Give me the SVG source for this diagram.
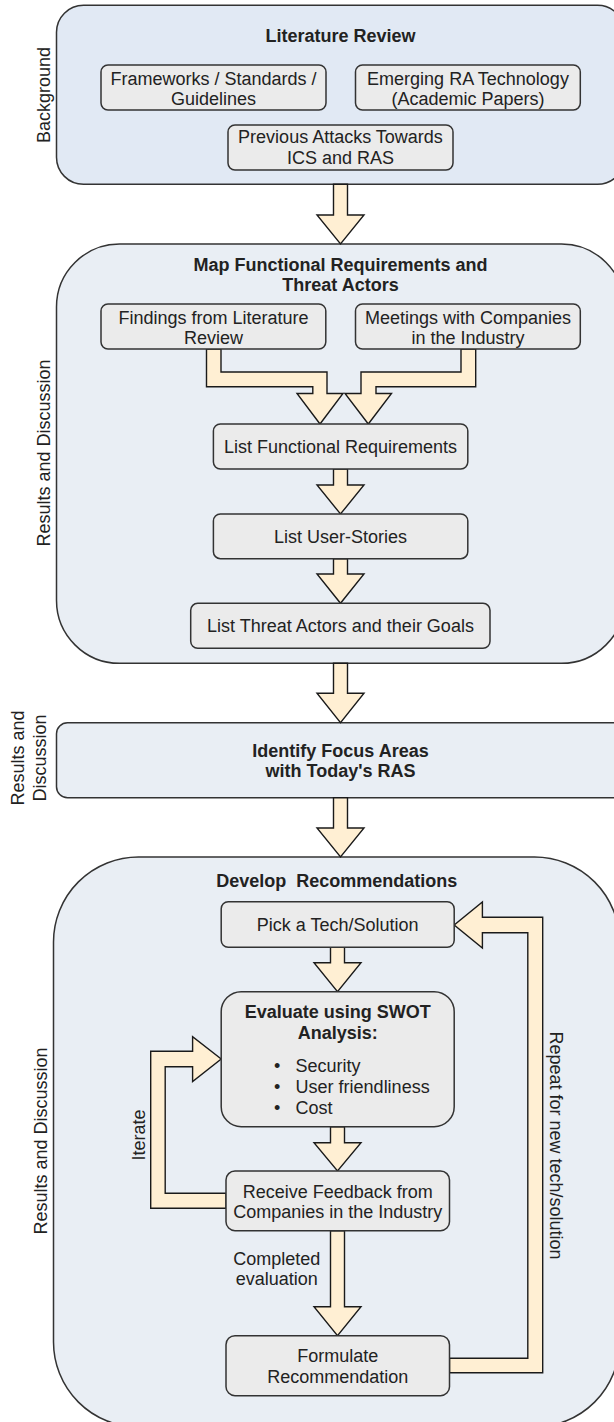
<svg xmlns="http://www.w3.org/2000/svg" width="614" height="1422" viewBox="0 0 614 1422">
  <style>
    text { font-family: "Liberation Sans", Arial, sans-serif; font-size: 18px; fill: #222; }
    .b { font-weight: bold; }
    .c { text-anchor: middle; }
    .stage { stroke: #333; stroke-width: 1.5; }
    .blue1 { fill: #E1E9F4; }
    .blue2 { fill: #E9EEF4; }
    .box { fill: #EBEBEB; stroke: #333; stroke-width: 1.5; }
    .arrow { fill: #FFEFD3; stroke: #1a1a1a; stroke-width: 1.4; stroke-linejoin: miter; }
  </style>

  <!-- stage containers -->
  <g id="literature-review">
    <rect class="stage blue1" x="56.5" y="5.3" width="568" height="179" rx="27" ry="27"/>
    <text class="b c" x="340.5" y="42">Literature Review</text>
  </g>
  <g id="map-requirements">
    <rect class="stage blue2" x="56.5" y="244" width="568" height="419.3" rx="63" ry="63"/>
    <text class="b c" x="340.5" y="271">Map Functional Requirements and</text>
    <text class="b c" x="340.5" y="291">Threat Actors</text>
  </g>
  <g id="focus-areas">
    <rect class="stage blue2" x="56.5" y="722.7" width="568" height="75" rx="11" ry="11"/>
    <text class="b c" x="340.5" y="756.5">Identify Focus Areas</text>
    <text class="b c" x="340.5" y="777">with Today's RAS</text>
  </g>
  <g id="develop-recommendations">
    <rect class="stage blue2" x="53.5" y="857" width="566" height="570" rx="85" ry="85"/>
    <text class="b c" x="336.7" y="886.5" xml:space="preserve">Develop  Recommendations</text>
  </g>

  <!-- side labels -->
  <g id="side-labels">
    <text class="c" transform="translate(49.5,95) rotate(-90)">Background</text>
    <text class="c" transform="translate(49.5,453) rotate(-90)">Results and Discussion</text>
    <text class="c" transform="translate(24,758) rotate(-90)">Results and</text>
    <text class="c" transform="translate(45.5,758) rotate(-90)">Discussion</text>
    <text class="c" transform="translate(47,1141) rotate(-90)">Results and Discussion</text>
  </g>

  <!-- connectors -->
  <g id="connectors">
    <polygon class="arrow" points="333.5,184.3 347.5,184.3 347.5,215 364,215 340.5,244 317,215 333.5,215"/>
    <polygon class="arrow" points="206.5,349 206.5,386.7 312.8,386.7 312.8,393.5 297,393.5 320,424 343,393.5 327,393.5 327,372 221,372 221,349"/>
    <polygon class="arrow" points="475.7,349 475.7,386.7 376,386.7 376,393.5 391.5,393.5 368.3,424 345,393.5 361,393.5 361,372 461,372 461,349"/>
    <polygon class="arrow" points="333.5,469 347.5,469 347.5,485 364,485 340.5,514 317,485 333.5,485"/>
    <polygon class="arrow" points="333.5,558.7 347.5,558.7 347.5,574 364,574 340.5,603.3 317,574 333.5,574"/>
    <polygon class="arrow" points="333.5,663.3 347.5,663.3 347.5,693.3 364,693.3 340.5,722.7 317,693.3 333.5,693.3"/>
    <polygon class="arrow" points="333.5,797.7 347.5,797.7 347.5,828 364,828 340.5,857 317,828 333.5,828"/>
    <polygon class="arrow" points="330.5,947.3 344.5,947.3 344.5,962.7 361,962.7 337.5,991.7 314,962.7 330.5,962.7"/>
    <polygon class="arrow" points="330.5,1126.7 344.5,1126.7 344.5,1142.7 361,1142.7 337.5,1171 314,1142.7 330.5,1142.7"/>
    <polygon class="arrow" points="330.5,1230.7 344.5,1230.7 344.5,1306.7 361,1306.7 337.5,1335.7 314,1306.7 330.5,1306.7"/>
    <!-- iterate loop back into the evaluation -->
    <polygon class="arrow" points="226,1208.3 150.7,1208.3 150.7,1051.3 192.6,1051.3 192.6,1036.7 221.2,1059 192.6,1081.5 192.6,1066.7 165.2,1066.7 165.2,1193.3 226,1193.3"/>
    <!-- repeat loop back to the start -->
    <polygon class="arrow" points="449.5,1372.7 542.7,1372.7 542.7,917.3 482.4,917.3 482.4,902 454.2,925 482.4,948 482.4,932.7 527.8,932.7 527.8,1358.3 449.5,1358.3"/>
    <text class="c" transform="translate(145,1135) rotate(-90)">Iterate</text>
    <text class="c" transform="translate(550,1145.5) rotate(90)">Repeat for new tech/solution</text>
    <text class="c" x="276.8" y="1264.5">Completed</text>
    <text class="c" x="276.8" y="1285">evaluation</text>
  </g>

  <!-- literature sources -->
  <g id="frameworks">
    <rect class="box" x="101" y="65" width="225" height="45" rx="7" ry="7"/>
    <text class="c" x="213.5" y="84.5">Frameworks / Standards /</text>
    <text class="c" x="213.5" y="104.5">Guidelines</text>
  </g>
  <g id="emerging-tech">
    <rect class="box" x="355.5" y="65" width="224.8" height="45" rx="7" ry="7"/>
    <text class="c" x="468" y="84.5">Emerging RA Technology</text>
    <text class="c" x="468" y="104.5">(Academic Papers)</text>
  </g>
  <g id="previous-attacks">
    <rect class="box" x="228" y="125" width="225" height="45" rx="7" ry="7"/>
    <text class="c" x="340.5" y="143">Previous Attacks Towards</text>
    <text class="c" x="340.5" y="163.5">ICS and RAS</text>
  </g>

  <!-- requirement mapping steps -->
  <g id="findings">
    <rect class="box" x="101" y="304" width="224.8" height="45" rx="7" ry="7"/>
    <text class="c" x="213.5" y="323.5">Findings from Literature</text>
    <text class="c" x="213.5" y="343.5">Review</text>
  </g>
  <g id="meetings">
    <rect class="box" x="355.5" y="304" width="224.8" height="45" rx="7" ry="7"/>
    <text class="c" x="468" y="323.5">Meetings with Companies</text>
    <text class="c" x="468" y="343.5">in the Industry</text>
  </g>
  <g id="functional-requirements">
    <rect class="box" x="213.4" y="424" width="254.4" height="45" rx="7" ry="7"/>
    <text class="c" x="340.5" y="453">List Functional Requirements</text>
  </g>
  <g id="user-stories">
    <rect class="box" x="213.4" y="514" width="254.4" height="44.7" rx="7" ry="7"/>
    <text class="c" x="340.5" y="543">List User-Stories</text>
  </g>
  <g id="threat-actors">
    <rect class="box" x="190.7" y="603.3" width="299.3" height="45" rx="7" ry="7"/>
    <text class="c" x="340.5" y="632.3">List Threat Actors and their Goals</text>
  </g>

  <!-- recommendation steps -->
  <g id="pick-tech">
    <rect class="box" x="221.2" y="901.7" width="233" height="45.6" rx="7" ry="7"/>
    <text class="c" x="337.7" y="931">Pick a Tech/Solution</text>
  </g>
  <g id="swot">
    <rect class="box" x="221.2" y="991.7" width="233" height="135" rx="20" ry="20"/>
    <text class="b c" x="337.7" y="1018">Evaluate using SWOT</text>
    <text class="b c" x="337.7" y="1038.5">Analysis:</text>
    <text x="274" y="1072.3">•</text>
    <text x="295.6" y="1072.3">Security</text>
    <text x="274" y="1093">•</text>
    <text x="295.6" y="1093">User friendliness</text>
    <text x="274" y="1113.6">•</text>
    <text x="295.6" y="1113.6">Cost</text>
  </g>
  <g id="feedback">
    <rect class="box" x="226" y="1171" width="223.5" height="59.7" rx="9" ry="9"/>
    <text class="c" x="337.7" y="1198">Receive Feedback from</text>
    <text class="c" x="337.7" y="1218">Companies in the Industry</text>
  </g>
  <g id="formulate">
    <rect class="box" x="226" y="1335.7" width="223.5" height="60" rx="9" ry="9"/>
    <text class="c" x="337.7" y="1362.3">Formulate</text>
    <text class="c" x="337.7" y="1383">Recommendation</text>
  </g>
</svg>
